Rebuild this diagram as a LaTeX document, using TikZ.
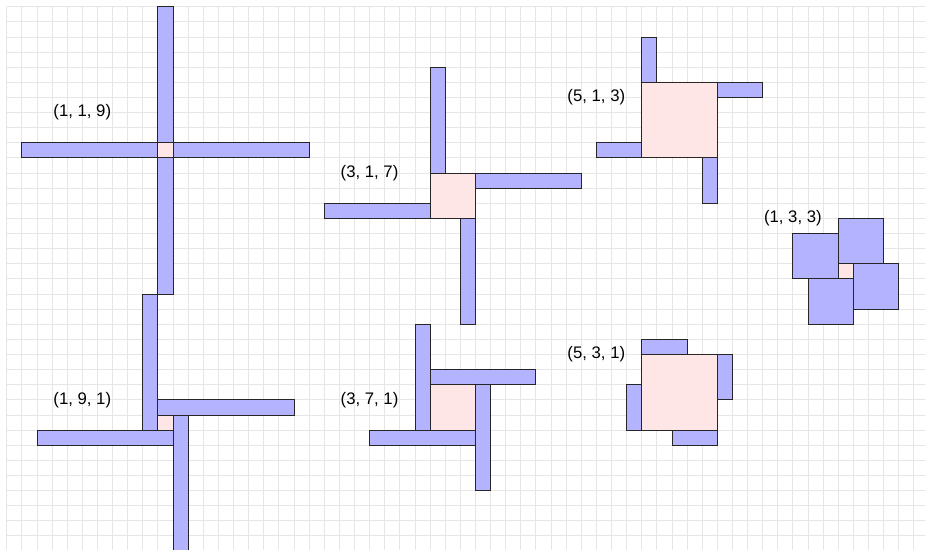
\documentclass[tikz,border=0pt]{standalone}
\usepackage{fontspec}
\setmainfont{Liberation Sans}
\usepackage{xcolor}
\definecolor{armblue}{RGB}{179,179,255}
\definecolor{corepink}{RGB}{255,230,230}
\definecolor{gridgray}{RGB}{230,230,230}
\usepackage{tikz}
\tikzset{
  arm/.style={draw=black!85,fill=armblue,line width=0.6pt},
  core/.style={draw=black!85,fill=corepink,line width=0.6pt},
  tag/.style={font=\fontsize{12.6}{15}\selectfont,inner sep=0pt},
  gridline/.style={draw=gridgray,line width=0.6pt},
}
% square of side #3 at (#1,#2), four arms #4 along the edge and #5 out
\newcommand{\pinwheel}[5]{%
  \begin{scope}[shift={(#1,#2)}]
    \draw[core] (0,0) rectangle (#3,#3);
    \draw[arm] (0,0) rectangle (#4,-#5);
    \draw[arm] (#3,0) rectangle (#3+#5,#4);
    \draw[arm] (#3-#4,#3) rectangle (#3,#3+#5);
    \draw[arm] (-#5,#3-#4) rectangle (0,#3);
  \end{scope}}

\begin{document}
\begin{tikzpicture}[x=0.4cm,y=-0.4cm]
\useasboundingbox (-0.443,-0.443) rectangle (60.74,35.93);
% background grid
\foreach \i in {0,...,60}
  \draw[gridline] (\i,0) -- (\i,35.93);
\foreach \j in {0,...,35}
  \draw[gridline] (0,\j) -- (60.74,\j);
% pinwheels
\pinwheel{10}{9}{1}{1}{9}
\pinwheel{10}{27}{1}{9}{1}
\pinwheel{28}{11}{3}{1}{7}
\pinwheel{28}{25}{3}{7}{1}
\pinwheel{42}{5}{5}{1}{3}
\pinwheel{42}{23}{5}{3}{1}
\pinwheel{55}{17}{1}{3}{3}
% labels
\node[tag] (t119) at (5,7) {(1, 1, 9)};
\node[tag] (t191) at (5,26) {(1, 9, 1)};
\node[tag] (t317) at (24,11) {(3, 1, 7)};
\node[tag] (t371) at (24,26) {(3, 7, 1)};
\node[tag] (t513) at (39,6) {(5, 1, 3)};
\node[tag] (t531) at (39,23) {(5, 3, 1)};
\node[tag] (t133) at (52,14) {(1, 3, 3)};
\end{tikzpicture}
\end{document}
